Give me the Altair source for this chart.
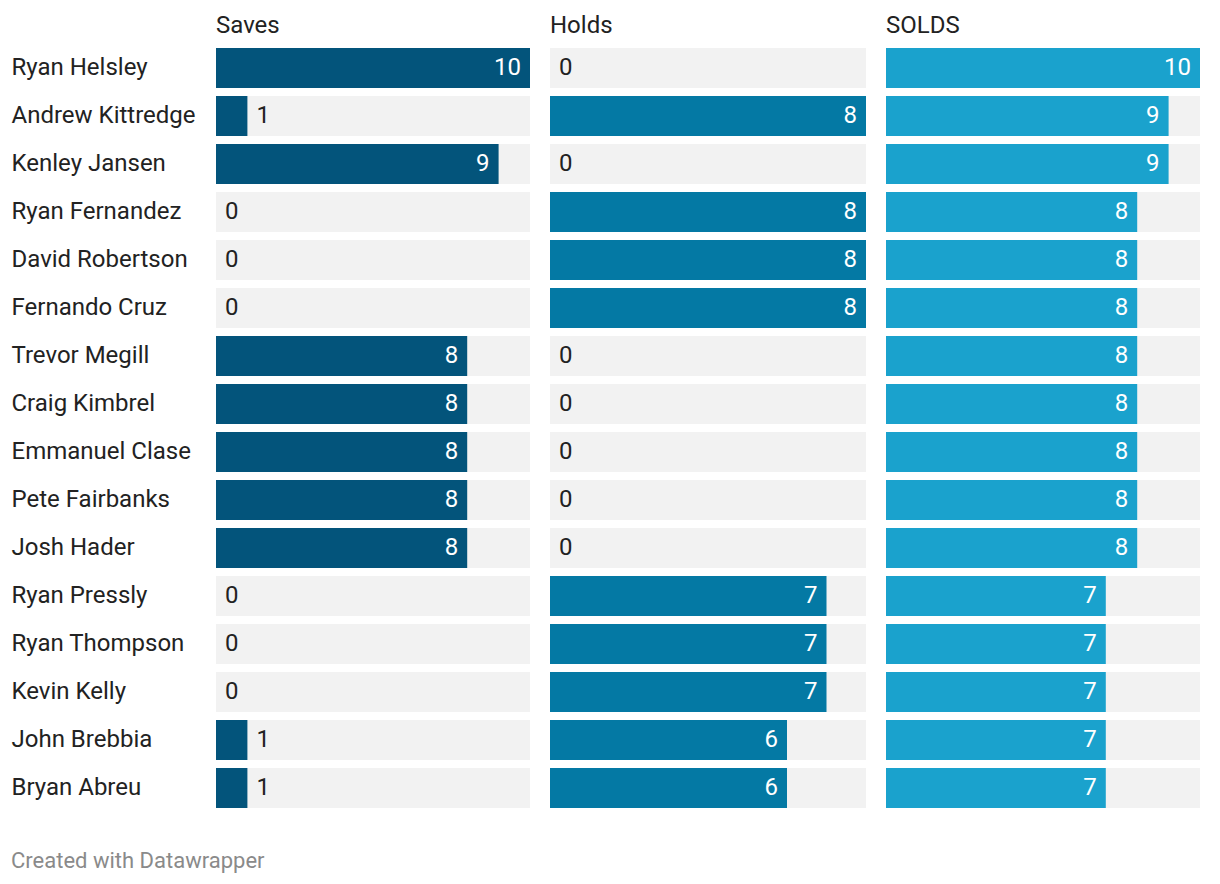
import altair as alt
import pandas as pd

names = ["Ryan Helsley", "Andrew Kittredge", "Kenley Jansen", "Ryan Fernandez",
         "David Robertson", "Fernando Cruz", "Trevor Megill", "Craig Kimbrel",
         "Emmanuel Clase", "Pete Fairbanks", "Josh Hader", "Ryan Pressly",
         "Ryan Thompson", "Kevin Kelly", "John Brebbia", "Bryan Abreu"]
saves = [10, 1, 9, 0, 0, 0, 8, 8, 8, 8, 8, 0, 0, 0, 1, 1]
holds = [0, 8, 0, 8, 8, 8, 0, 0, 0, 0, 0, 7, 7, 7, 6, 6]
solds = [10, 9, 9, 8, 8, 8, 8, 8, 8, 8, 8, 7, 7, 7, 7, 7]

FONT = "Roboto"
FS = 24


def panel(values, title, color, maxval, width, show_axis):
    df = pd.DataFrame({"name": names, "value": values, "max": [maxval] * len(names)})
    if show_axis:
        yaxis = alt.Axis(title=None, domain=False, ticks=False, labelAlign="left",
                         labelPadding=205, labelFontSize=FS, labelFont=FONT,
                         labelColor="#222222", labelLimit=300)
    else:
        yaxis = None
    y = alt.Y("name:N", sort=names, axis=yaxis,
              scale=alt.Scale(paddingInner=8 / 48, paddingOuter=4 / 48))
    xs = alt.Scale(domain=[0, maxval], nice=False)
    base = alt.Chart(df)
    bg = base.mark_bar(color="#f2f2f2").encode(
        x=alt.X("max:Q", scale=xs, axis=None), y=y)
    bar = base.mark_bar(color=color).encode(
        x=alt.X("value:Q", scale=xs, axis=None), y=y)
    inside = base.mark_text(align="right", dx=-9, fontSize=FS, font=FONT,
                            color="white").encode(
        x=alt.X("value:Q", scale=xs, axis=None), y=y, text="value:Q"
    ).transform_filter("datum.value >= 3")
    outside = base.mark_text(align="left", dx=9, fontSize=FS, font=FONT,
                             color="#222222").encode(
        x=alt.X("value:Q", scale=xs, axis=None), y=y, text="value:Q"
    ).transform_filter("datum.value < 3")
    return alt.layer(bg, bar, inside, outside).properties(
        width=width, height=768,
        view=alt.ViewBackground(stroke="transparent", strokeWidth=0),
        title=alt.TitleParams(title, anchor="start", frame="group", fontSize=FS,
                              fontWeight="normal", font=FONT, color="#222222",
                              baseline="alphabetic", offset=-13),
    )


chart = alt.hconcat(
    panel(saves, "Saves", "#03547b", 10, 314, True),
    panel(holds, "Holds", "#0479a4", 8, 316, False),
    panel(solds, "SOLDS", "#1aa2cd", 10, 314, False),
    spacing=20,
).properties(
    title=alt.TitleParams("Created with Datawrapper", orient="bottom", anchor="start",
                          fontSize=22, fontWeight="normal", font=FONT,
                          color="#8a8a8a", offset=39),
    padding={"left": 11, "top": 14, "right": 20, "bottom": 10},
).configure_view(stroke="transparent", strokeWidth=0).configure(background="white")

chart.save("out.html", embed_options={"renderer": "svg", "actions": False})
